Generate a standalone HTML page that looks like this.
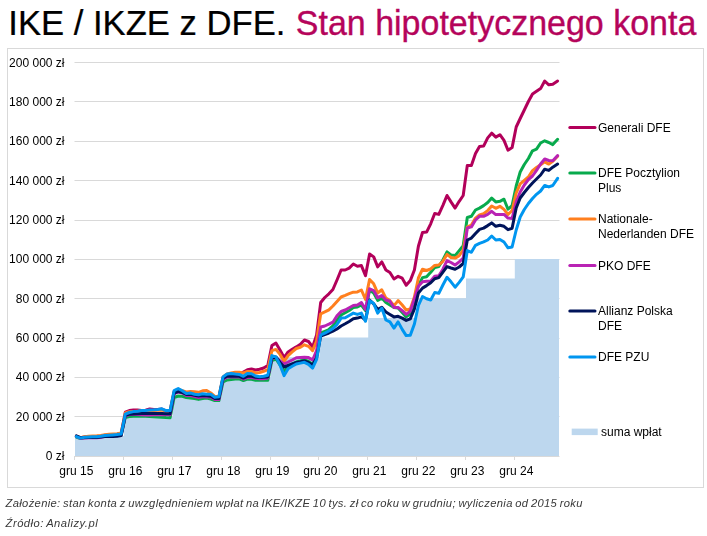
<!DOCTYPE html>
<html lang="pl"><head><meta charset="utf-8"><title>IKE / IKZE z DFE. Stan hipotetycznego konta</title>
<style>html,body{margin:0;padding:0;background:#fff}svg{display:block}text{font-family:"Liberation Sans",Arial,sans-serif}</style></head><body>
<svg width="707" height="536" viewBox="0 0 707 536">
<rect width="707" height="536" fill="#fff"/>
<text transform="translate(8.3,34.8) scale(0.9733,0.995)" x="0" y="0" font-size="35.6px" fill="#000" stroke="#000" stroke-width="0.25">IKE / IKZE z DFE.</text>
<text transform="translate(295.8,34.8) scale(0.955,0.962)" x="0" y="0" font-size="35.6px" fill="#B5045B" stroke="#B5045B" stroke-width="0.35">Stan hipotetycznego konta</text>
<rect x="7.5" y="48.5" width="696" height="439" fill="#fff" stroke="#D9D9D9" stroke-width="1"/>
<line x1="74.5" x2="559.5" y1="416.5" y2="416.5" stroke="#D9D9D9" stroke-width="1"/>
<line x1="74.5" x2="559.5" y1="377.5" y2="377.5" stroke="#D9D9D9" stroke-width="1"/>
<line x1="74.5" x2="559.5" y1="338.5" y2="338.5" stroke="#D9D9D9" stroke-width="1"/>
<line x1="74.5" x2="559.5" y1="298.5" y2="298.5" stroke="#D9D9D9" stroke-width="1"/>
<line x1="74.5" x2="559.5" y1="259.5" y2="259.5" stroke="#D9D9D9" stroke-width="1"/>
<line x1="74.5" x2="559.5" y1="220.5" y2="220.5" stroke="#D9D9D9" stroke-width="1"/>
<line x1="74.5" x2="559.5" y1="180.5" y2="180.5" stroke="#D9D9D9" stroke-width="1"/>
<line x1="74.5" x2="559.5" y1="141.5" y2="141.5" stroke="#D9D9D9" stroke-width="1"/>
<line x1="74.5" x2="559.5" y1="101.5" y2="101.5" stroke="#D9D9D9" stroke-width="1"/>
<line x1="74.5" x2="559.5" y1="62.5" y2="62.5" stroke="#D9D9D9" stroke-width="1"/>
<polygon points="75.0,456.0 75.0,435.9 123.9,435.9 123.9,416.3 172.7,416.3 172.7,396.6 221.6,396.6 221.6,376.9 270.5,376.9 270.5,357.3 319.4,357.3 319.4,337.6 368.2,337.6 368.2,317.9 417.1,317.9 417.1,298.3 466.0,298.3 466.0,278.6 514.8,278.6 514.8,259.0 559.0,259.0 559.0,456.0" fill="#BDD7EE"/>
<line x1="75" x2="559.5" y1="456.5" y2="456.5" stroke="#D9D9D9" stroke-width="1"/>
<line x1="74.5" x2="74.5" y1="456" y2="460" stroke="#D9D9D9" stroke-width="1"/>
<line x1="123.5" x2="123.5" y1="456" y2="460" stroke="#D9D9D9" stroke-width="1"/>
<line x1="172.5" x2="172.5" y1="456" y2="460" stroke="#D9D9D9" stroke-width="1"/>
<line x1="221.5" x2="221.5" y1="456" y2="460" stroke="#D9D9D9" stroke-width="1"/>
<line x1="270.5" x2="270.5" y1="456" y2="460" stroke="#D9D9D9" stroke-width="1"/>
<line x1="318.5" x2="318.5" y1="456" y2="460" stroke="#D9D9D9" stroke-width="1"/>
<line x1="367.5" x2="367.5" y1="456" y2="460" stroke="#D9D9D9" stroke-width="1"/>
<line x1="416.5" x2="416.5" y1="456" y2="460" stroke="#D9D9D9" stroke-width="1"/>
<line x1="465.5" x2="465.5" y1="456" y2="460" stroke="#D9D9D9" stroke-width="1"/>
<line x1="514.5" x2="514.5" y1="456" y2="460" stroke="#D9D9D9" stroke-width="1"/>
<polyline points="76.4,436.3 80.5,437.8 84.5,437.0 88.6,436.6 92.7,436.5 96.8,436.4 100.8,436.0 104.9,435.3 109.0,434.9 113.0,434.6 117.1,434.3 121.2,433.6 125.3,412.2 129.3,410.6 133.4,410.0 137.5,410.0 141.6,410.4 145.6,410.2 149.7,408.9 153.8,409.6 157.8,409.6 161.9,409.0 166.0,410.8 170.1,410.8 174.1,392.0 178.2,390.5 182.3,392.0 186.3,394.5 190.4,394.0 194.5,395.0 198.6,395.5 202.6,394.5 206.7,394.5 210.8,395.0 214.8,398.0 218.9,397.5 223.0,378.0 227.1,375.0 231.1,374.5 235.2,374.5 239.3,374.4 243.4,372.0 247.4,369.8 251.5,369.0 255.6,370.0 259.6,369.3 263.7,368.0 267.8,365.5 271.9,345.5 275.9,343.1 280.0,350.0 284.1,357.5 288.1,351.9 292.2,349.3 296.3,346.9 300.4,344.2 304.4,340.0 308.5,341.5 312.6,347.0 316.6,335.0 320.7,302.5 324.8,297.5 328.9,293.8 332.9,289.5 337.0,280.0 341.1,270.0 345.2,270.0 349.2,268.1 353.3,264.0 357.4,266.3 361.4,265.6 365.5,275.6 369.6,254.0 373.7,256.9 377.7,266.9 381.8,261.9 385.9,270.0 389.9,272.5 394.0,279.0 398.1,276.3 402.2,278.2 406.2,285.3 410.3,280.6 414.4,270.0 418.4,246.3 422.5,232.5 426.6,232.1 430.7,223.8 434.7,213.5 438.8,214.4 442.9,205.3 447.0,195.5 451.0,201.9 455.1,208.1 459.2,201.3 463.2,195.5 467.3,165.4 471.4,165.4 475.5,153.5 479.5,146.5 483.6,146.1 487.7,137.9 491.7,133.2 495.8,137.1 499.9,134.7 504.0,140.4 508.0,150.2 512.1,147.6 516.2,127.0 520.2,118.5 524.3,110.0 528.4,101.5 532.5,94.0 536.5,91.3 540.6,88.6 544.7,81.0 548.8,84.8 552.8,84.2 557.6,81.0" fill="none" stroke="#B2005A" stroke-width="3" stroke-linejoin="round" stroke-linecap="round"/>
<polyline points="76.4,437.1 80.5,438.6 84.5,437.8 88.6,437.4 92.7,437.3 96.8,437.2 100.8,436.8 104.9,436.1 109.0,435.7 113.0,435.4 117.1,435.1 121.2,434.4 125.3,417.5 129.3,416.5 133.4,416.3 137.5,416.3 141.6,416.3 145.6,416.3 149.7,416.5 153.8,416.8 157.8,417.0 161.9,417.3 166.0,417.6 170.1,417.8 174.1,397.5 178.2,396.0 182.3,396.3 186.3,397.5 190.4,398.0 194.5,398.5 198.6,399.4 202.6,398.5 206.7,398.1 210.8,399.0 214.8,400.6 218.9,400.6 223.0,382.0 227.1,380.0 231.1,379.5 235.2,379.0 239.3,378.8 243.4,380.6 247.4,379.2 251.5,379.3 255.6,380.3 259.6,380.3 263.7,380.3 267.8,380.3 271.9,360.5 275.9,359.0 280.0,365.0 284.1,371.5 288.1,367.0 292.2,364.0 296.3,362.0 300.4,361.0 304.4,359.8 308.5,361.5 312.6,364.5 316.6,356.0 320.7,333.0 324.8,331.3 328.9,329.5 332.9,326.0 337.0,320.0 341.1,315.0 345.2,312.8 349.2,310.5 353.3,307.5 357.4,307.0 361.4,305.0 365.5,310.5 369.6,290.0 373.7,293.1 377.7,300.4 381.8,298.1 385.9,302.5 389.9,305.0 394.0,307.5 398.1,308.1 402.2,312.5 406.2,316.9 410.3,313.8 414.4,300.0 418.4,285.5 422.5,277.6 426.6,276.8 430.7,272.3 434.7,267.5 438.8,266.5 442.9,260.0 447.0,251.9 451.0,255.0 455.1,255.6 459.2,250.6 463.2,245.6 467.3,217.5 471.4,216.3 475.5,210.0 479.5,208.1 483.6,205.6 487.7,202.5 491.7,198.1 495.8,201.9 499.9,201.3 504.0,199.2 508.0,209.2 512.1,205.6 516.2,186.0 520.2,172.0 524.3,164.5 528.4,158.5 532.5,150.8 536.5,149.2 540.6,143.0 544.7,140.8 548.8,142.5 552.8,144.6 557.6,139.3" fill="none" stroke="#08AA4C" stroke-width="3" stroke-linejoin="round" stroke-linecap="round"/>
<polyline points="76.4,436.4 80.5,437.6 84.5,436.8 88.6,436.3 92.7,436.0 96.8,435.8 100.8,435.4 104.9,434.7 109.0,434.3 113.0,434.0 117.1,433.7 121.2,433.0 125.3,413.0 129.3,411.8 133.4,411.5 137.5,411.3 141.6,411.2 145.6,411.0 149.7,410.8 153.8,410.5 157.8,410.3 161.9,410.0 166.0,411.0 170.1,411.0 174.1,391.5 178.2,389.5 182.3,390.6 186.3,391.9 190.4,391.6 194.5,391.8 198.6,392.3 202.6,390.8 206.7,390.6 210.8,393.0 214.8,396.3 218.9,396.5 223.0,377.0 227.1,374.0 231.1,373.0 235.2,372.3 239.3,372.3 243.4,373.0 247.4,371.5 251.5,371.5 255.6,373.0 259.6,372.5 263.7,371.3 267.8,369.6 271.9,350.6 275.9,349.4 280.0,354.4 284.1,361.3 288.1,355.6 292.2,351.9 296.3,348.5 300.4,347.3 304.4,344.8 308.5,346.3 312.6,350.6 316.6,341.0 320.7,313.8 324.8,311.9 328.9,309.8 332.9,306.0 337.0,301.5 341.1,297.0 345.2,295.4 349.2,293.7 353.3,292.2 357.4,291.9 361.4,290.0 365.5,299.4 369.6,279.4 373.7,283.8 377.7,293.0 381.8,289.8 385.9,298.1 389.9,300.6 394.0,305.6 398.1,300.6 402.2,305.0 406.2,310.0 410.3,309.0 414.4,297.0 418.4,278.0 422.5,269.2 426.6,270.5 430.7,268.8 434.7,265.4 438.8,265.0 442.9,261.3 447.0,254.4 451.0,257.5 455.1,258.1 459.2,255.6 463.2,250.0 467.3,226.8 471.4,225.0 475.5,218.1 479.5,215.0 483.6,213.8 487.7,210.6 491.7,206.0 495.8,208.3 499.9,206.3 504.0,209.4 508.0,214.5 512.1,210.5 516.2,193.0 520.2,183.8 524.3,180.4 528.4,177.0 532.5,170.6 536.5,167.5 540.6,164.8 544.7,161.9 548.8,164.1 552.8,161.2 557.6,156.2" fill="none" stroke="#FF7F1E" stroke-width="3" stroke-linejoin="round" stroke-linecap="round"/>
<polyline points="76.4,436.4 80.5,438.3 84.5,437.9 88.6,437.8 92.7,437.8 96.8,437.7 100.8,437.2 104.9,436.3 109.0,435.8 113.0,435.5 117.1,435.2 121.2,434.5 125.3,416.0 129.3,414.5 133.4,414.3 137.5,414.5 141.6,414.8 145.6,415.0 149.7,415.0 153.8,414.8 157.8,414.8 161.9,414.8 166.0,414.8 170.1,414.8 174.1,394.0 178.2,392.0 182.3,393.0 186.3,395.5 190.4,395.5 194.5,396.5 198.6,397.5 202.6,396.5 206.7,397.0 210.8,397.0 214.8,399.5 218.9,399.5 223.0,379.5 227.1,377.0 231.1,376.8 235.2,377.0 239.3,377.0 243.4,379.0 247.4,377.3 251.5,377.5 255.6,378.3 259.6,378.8 263.7,378.8 267.8,378.0 271.9,358.5 275.9,357.5 280.0,361.0 284.1,364.0 288.1,362.0 292.2,360.0 296.3,357.8 300.4,357.4 304.4,357.3 308.5,357.6 312.6,360.0 316.6,350.5 320.7,327.0 324.8,326.0 328.9,324.2 332.9,322.2 337.0,315.8 341.1,311.5 345.2,310.0 349.2,307.8 353.3,305.5 357.4,305.0 361.4,302.5 365.5,309.4 369.6,288.8 373.7,290.6 377.7,297.7 381.8,295.6 385.9,300.0 389.9,301.3 394.0,307.5 398.1,307.5 402.2,310.6 406.2,314.4 410.3,311.3 414.4,299.0 418.4,286.2 422.5,281.7 426.6,281.2 430.7,281.0 434.7,276.2 438.8,275.8 442.9,269.2 447.0,260.6 451.0,262.5 455.1,265.0 459.2,261.9 463.2,258.1 467.3,228.0 471.4,226.9 475.5,220.0 479.5,216.3 483.6,216.3 487.7,214.4 491.7,211.3 495.8,214.6 499.9,214.4 504.0,214.4 508.0,218.1 512.1,218.5 516.2,202.0 520.2,192.0 524.3,185.0 528.4,179.5 532.5,176.0 536.5,170.4 540.6,164.0 544.7,159.0 548.8,160.5 552.8,160.7 557.6,155.6" fill="none" stroke="#B923B4" stroke-width="3" stroke-linejoin="round" stroke-linecap="round"/>
<polyline points="76.4,435.9 80.5,437.7 84.5,437.6 88.6,437.5 92.7,437.5 96.8,437.5 100.8,437.1 104.9,436.5 109.0,436.4 113.0,436.4 117.1,436.2 121.2,435.6 125.3,415.2 129.3,414.3 133.4,414.0 137.5,413.8 141.6,413.6 145.6,413.6 149.7,413.6 153.8,413.6 157.8,413.4 161.9,413.4 166.0,413.7 170.1,413.7 174.1,393.0 178.2,391.5 182.3,392.5 186.3,394.5 190.4,394.3 194.5,395.3 198.6,396.0 202.6,395.5 206.7,395.8 210.8,396.2 214.8,398.5 218.9,398.5 223.0,378.5 227.1,376.3 231.1,376.0 235.2,376.2 239.3,376.3 243.4,378.0 247.4,376.3 251.5,376.3 255.6,377.3 259.6,377.5 263.7,377.3 267.8,376.9 271.9,358.0 275.9,357.0 280.0,362.5 284.1,367.0 288.1,365.5 292.2,364.0 296.3,362.5 300.4,361.8 304.4,361.0 308.5,362.5 312.6,365.0 316.6,358.0 320.7,336.0 324.8,334.5 328.9,333.0 332.9,331.2 337.0,329.0 341.1,326.0 345.2,323.8 349.2,321.5 353.3,318.8 357.4,318.1 361.4,316.9 365.5,320.0 369.6,300.0 373.7,303.8 377.7,309.4 381.8,307.3 385.9,311.9 389.9,314.4 394.0,316.9 398.1,316.3 402.2,318.1 406.2,320.4 410.3,318.8 414.4,309.0 418.4,293.0 422.5,288.1 426.6,285.6 430.7,282.8 434.7,278.8 438.8,277.6 442.9,272.2 447.0,266.6 451.0,268.0 455.1,269.3 459.2,267.0 463.2,263.5 467.3,240.0 471.4,238.1 475.5,233.5 479.5,229.4 483.6,228.1 487.7,225.6 491.7,222.9 495.8,226.3 499.9,225.2 504.0,226.3 508.0,229.7 512.1,228.3 516.2,208.0 520.2,198.0 524.3,192.5 528.4,187.5 532.5,183.0 536.5,179.0 540.6,175.0 544.7,169.2 548.8,170.4 552.8,167.2 557.6,164.1" fill="none" stroke="#00145A" stroke-width="3" stroke-linejoin="round" stroke-linecap="round"/>
<polyline points="76.4,436.6 80.5,438.1 84.5,437.3 88.6,436.9 92.7,436.8 96.8,436.7 100.8,436.3 104.9,435.6 109.0,435.2 113.0,434.9 117.1,434.6 121.2,433.9 125.3,414.2 129.3,412.5 133.4,411.6 137.5,411.2 141.6,410.6 145.6,410.4 149.7,410.1 153.8,409.8 157.8,409.4 161.9,408.8 166.0,410.6 170.1,410.6 174.1,390.6 178.2,388.6 182.3,390.8 186.3,393.6 190.4,392.9 194.5,394.2 198.6,394.8 202.6,393.7 206.7,394.3 210.8,394.3 214.8,397.2 218.9,396.8 223.0,376.9 227.1,374.0 231.1,373.5 235.2,374.0 239.3,374.4 243.4,376.3 247.4,373.5 251.5,373.7 255.6,376.0 259.6,376.8 263.7,376.2 267.8,375.3 271.9,355.6 275.9,356.9 280.0,365.0 284.1,375.6 288.1,368.8 292.2,366.3 296.3,364.0 300.4,363.1 304.4,362.3 308.5,364.4 312.6,368.1 316.6,359.4 320.7,335.0 324.8,333.1 328.9,331.0 332.9,328.5 337.0,324.5 341.1,318.1 345.2,317.8 349.2,315.5 353.3,313.1 357.4,314.4 361.4,313.1 365.5,321.3 369.6,300.6 373.7,303.5 377.7,313.1 381.8,308.1 385.9,320.0 389.9,321.9 394.0,328.1 398.1,321.9 402.2,329.4 406.2,335.6 410.3,335.3 414.4,324.0 418.4,305.5 422.5,296.5 426.6,298.8 430.7,300.0 434.7,292.6 438.8,293.3 442.9,285.0 447.0,277.3 451.0,281.8 455.1,287.2 459.2,282.4 463.2,276.9 467.3,250.6 471.4,252.3 475.5,245.3 479.5,243.4 483.6,241.9 487.7,240.0 491.7,236.0 495.8,240.0 499.9,239.4 504.0,242.0 508.0,247.8 512.1,247.0 516.2,230.0 520.2,217.0 524.3,209.5 528.4,203.5 532.5,198.5 536.5,194.3 540.6,191.0 544.7,185.4 548.8,186.9 552.8,185.5 557.6,178.3" fill="none" stroke="#0096F0" stroke-width="3" stroke-linejoin="round" stroke-linecap="round"/>
<line x1="569.8" x2="595" y1="127.4" y2="127.4" stroke="#B2005A" stroke-width="3" stroke-linecap="round"/>
<line x1="569.8" x2="595" y1="173.1" y2="173.1" stroke="#08AA4C" stroke-width="3" stroke-linecap="round"/>
<line x1="569.8" x2="595" y1="219.0" y2="219.0" stroke="#FF7F1E" stroke-width="3" stroke-linecap="round"/>
<line x1="569.8" x2="595" y1="265.4" y2="265.4" stroke="#B923B4" stroke-width="3" stroke-linecap="round"/>
<line x1="569.8" x2="595" y1="311.1" y2="311.1" stroke="#00145A" stroke-width="3" stroke-linecap="round"/>
<line x1="569.8" x2="595" y1="357.1" y2="357.1" stroke="#0096F0" stroke-width="3" stroke-linecap="round"/>
<rect x="571.7" y="428.6" width="26" height="6.5" fill="#BDD7EE"/>
<g style="filter:grayscale(1)">
<text x="64.5" y="459.8" font-size="12px" text-anchor="end" fill="#000">0 zł</text>
<text x="64.5" y="420.8" font-size="12px" text-anchor="end" fill="#000">20 000 zł</text>
<text x="64.5" y="380.8" font-size="12px" text-anchor="end" fill="#000">40 000 zł</text>
<text x="64.5" y="341.8" font-size="12px" text-anchor="end" fill="#000">60 000 zł</text>
<text x="64.5" y="302.8" font-size="12px" text-anchor="end" fill="#000">80 000 zł</text>
<text x="64.5" y="262.8" font-size="12px" text-anchor="end" fill="#000">100 000 zł</text>
<text x="64.5" y="223.8" font-size="12px" text-anchor="end" fill="#000">120 000 zł</text>
<text x="64.5" y="184.8" font-size="12px" text-anchor="end" fill="#000">140 000 zł</text>
<text x="64.5" y="144.8" font-size="12px" text-anchor="end" fill="#000">160 000 zł</text>
<text x="64.5" y="105.8" font-size="12px" text-anchor="end" fill="#000">180 000 zł</text>
<text x="64.5" y="66.8" font-size="12px" text-anchor="end" fill="#000">200 000 zł</text>
<text x="76.3" y="475" font-size="12px" text-anchor="middle" fill="#000">gru 15</text>
<text x="125.3" y="475" font-size="12px" text-anchor="middle" fill="#000">gru 16</text>
<text x="174.3" y="475" font-size="12px" text-anchor="middle" fill="#000">gru 17</text>
<text x="223.3" y="475" font-size="12px" text-anchor="middle" fill="#000">gru 18</text>
<text x="272.3" y="475" font-size="12px" text-anchor="middle" fill="#000">gru 19</text>
<text x="320.3" y="475" font-size="12px" text-anchor="middle" fill="#000">gru 20</text>
<text x="369.3" y="475" font-size="12px" text-anchor="middle" fill="#000">gru 21</text>
<text x="418.3" y="475" font-size="12px" text-anchor="middle" fill="#000">gru 22</text>
<text x="467.3" y="475" font-size="12px" text-anchor="middle" fill="#000">gru 23</text>
<text x="516.3" y="475" font-size="12px" text-anchor="middle" fill="#000">gru 24</text>
<text x="598" y="131.6" font-size="12px" fill="#000">Generali DFE</text>
<text x="598" y="177.3" font-size="12px" fill="#000">DFE Pocztylion</text>
<text x="598" y="191.6" font-size="12px" fill="#000">Plus</text>
<text x="598" y="223.2" font-size="12px" fill="#000">Nationale-</text>
<text x="598" y="237.5" font-size="12px" fill="#000">Nederlanden DFE</text>
<text x="598" y="269.6" font-size="12px" fill="#000">PKO DFE</text>
<text x="598" y="315.3" font-size="12px" fill="#000">Allianz Polska</text>
<text x="598" y="329.6" font-size="12px" fill="#000">DFE</text>
<text x="598" y="361.3" font-size="12px" fill="#000">DFE PZU</text>
<text x="601" y="436" font-size="12px" fill="#000">suma wpłat</text>
<text x="5.6" y="507.2" font-size="11.2px" font-style="italic" fill="#383838" style="letter-spacing:0.33px;word-spacing:-0.87px">Założenie: stan konta z uwzględnieniem wpłat na IKE/IKZE 10 tys. zł co roku w grudniu; wyliczenia od 2015 roku</text>
<text x="5.6" y="526.7" font-size="11.2px" font-style="italic" fill="#383838" style="letter-spacing:0.49px;word-spacing:-0.87px">Źródło: Analizy.pl</text>
</g>
</svg></body></html>
